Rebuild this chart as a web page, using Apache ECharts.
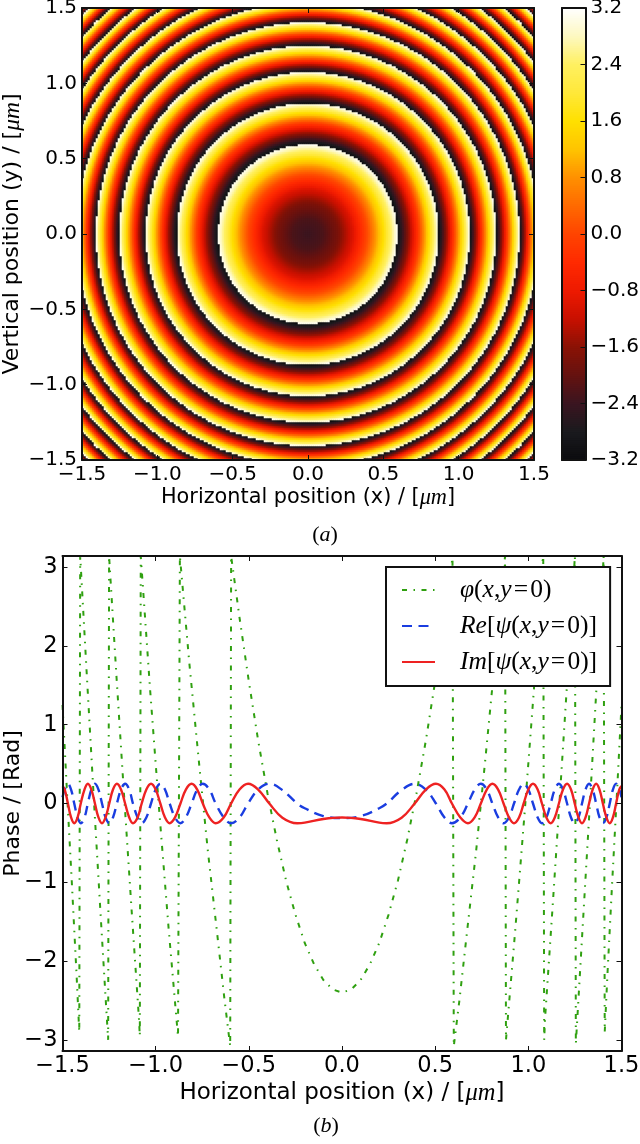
<!DOCTYPE html>
<html><head><meta charset="utf-8">
<style>html,body{margin:0;padding:0;background:#fff}#c{width:640px;height:1144px}</style>
<script src="https://cdn.jsdelivr.net/npm/echarts@6/dist/echarts.min.js"></script>
</head><body><div id="c"></div>
<script>
// ---- (a) phase map: radial profile read from the rings (radius in um, unwrapped phase in rad)
const radialR = [0,0.1,0.2,0.3,0.4,0.5,0.595,0.735,0.868,0.975,1.075,1.165,1.25,1.405,1.54,1.665,1.78,1.885,1.99,2.085,2.175];
const radialPhase = [-2.4,-2.24,-1.77,-0.98,0.13,1.55,3.1416,6.13,9.4248,12.62,15.708,19.04,21.991,28.274,34.558,40.841,47.124,53.407,59.69,65.973,72.257];
const colorbarMin = -3.2, colorbarMax = 3.2, colorbarStep = 0.8;
// colour ramp, equal steps from -3.2 to 3.2
const ramp = ['#0c0c0e','#1a1a1e','#3a1520','#651210','#8a1205','#c81000','#ee1a00','#ff2a00','#ff4400','#ff6a00','#ff9000','#ffc400','#ffe000','#ffe83a','#fff060','#fdf8c0','#ffffff'];

// ---- (b) cuts through the centre
const phiX = [-1.5,-1.475,-1.45,-1.425,-1.41,-1.405,-1.37,-1.33,-1.29,-1.255,-1.25,-1.21,-1.17,-1.13,-1.09,-1.085,-1.08,-1.03,-0.98,-0.93,-0.88,-0.87,-0.82,-0.77,-0.72,-0.67,-0.63,-0.6,-0.595,-0.55,-0.5,-0.45,-0.4,-0.35,-0.3,-0.25,-0.2,-0.15,-0.1,-0.05,0,0.05,0.1,0.15,0.2,0.25,0.3,0.35,0.4,0.45,0.5,0.55,0.593,0.6,0.63,0.67,0.72,0.77,0.82,0.87,0.875,0.88,0.93,0.98,1.03,1.075,1.08,1.085,1.09,1.13,1.17,1.21,1.245,1.25,1.255,1.29,1.33,1.37,1.4,1.404,1.41,1.425,1.45,1.475,1.5];
const phiY = [1.25,0.1,-1.0,-2.15,-2.9,3.14,1.65,-0.02,-1.63,-3.0,3.14,1.6,0.12,-1.32,-2.72,-2.95,3.14,1.45,-0.12,-1.6,-2.96,3.14,1.8,0.58,-0.6,-1.65,-2.5,-3.08,3.14,2.36,1.55,0.8,0.13,-0.46,-0.98,-1.41,-1.77,-2.04,-2.24,-2.36,-2.4,-2.36,-2.24,-2.04,-1.77,-1.41,-0.98,-0.46,0.13,0.8,1.55,2.38,3.12,-3.08,-2.5,-1.65,-0.6,0.58,1.8,3.0,3.14,-3.0,-1.6,-0.12,1.45,3.05,3.14,-3.0,-2.72,-1.32,0.12,1.6,2.95,3.14,-3.05,-1.63,-0.02,1.65,2.95,3.14,-2.9,-2.15,-1.0,0.1,1.25];
const waveX = [-1.5,-1.488,-1.471,-1.454,-1.437,-1.419,-1.402,-1.382,-1.364,-1.345,-1.326,-1.307,-1.288,-1.269,-1.249,-1.229,-1.208,-1.186,-1.164,-1.142,-1.122,-1.097,-1.075,-1.05,-1.025,-1.0,-0.975,-0.95,-0.925,-0.896,-0.867,-0.838,-0.807,-0.777,-0.747,-0.712,-0.678,-0.635,-0.595,-0.55,-0.504,-0.45,-0.39,-0.32,-0.24,-0.2,-0.1,0,0.1,0.2,0.24,0.32,0.39,0.45,0.504,0.55,0.59,0.635,0.676,0.712,0.745,0.777,0.807,0.838,0.867,0.896,0.923,0.95,0.975,1.0,1.025,1.05,1.073,1.097,1.12,1.142,1.164,1.186,1.208,1.229,1.249,1.269,1.288,1.307,1.326,1.345,1.364,1.382,1.4,1.419,1.437,1.454,1.471,1.488,1.5];
const reY = [0.08,0.177,0.25,0.177,0,-0.177,-0.25,-0.177,0,0.177,0.25,0.177,0,-0.177,-0.25,-0.177,0,0.177,0.25,0.177,0,-0.177,-0.25,-0.177,0,0.177,0.25,0.177,0,-0.177,-0.25,-0.177,0,0.177,0.25,0.177,0,-0.177,-0.25,-0.177,0,0.177,0.25,0.17,0,-0.06,-0.16,-0.185,-0.16,-0.06,0,0.17,0.25,0.177,0,-0.177,-0.25,-0.177,0,0.177,0.25,0.177,0,-0.177,-0.25,-0.177,0,0.177,0.25,0.177,0,-0.177,-0.25,-0.177,0,0.177,0.25,0.177,0,-0.177,-0.25,-0.177,0,0.177,0.25,0.177,0,-0.177,-0.25,-0.177,0,0.177,0.25,0.177,0.08];
const imY = [0.22,0.177,0,-0.177,-0.25,-0.177,0,0.177,0.25,0.177,0,-0.177,-0.25,-0.177,0,0.177,0.25,0.177,0,-0.177,-0.25,-0.177,0,0.177,0.25,0.177,0,-0.177,-0.25,-0.177,0,0.177,0.25,0.177,0,-0.177,-0.25,-0.177,0,0.177,0.25,0.177,0,-0.18,-0.25,-0.243,-0.197,-0.178,-0.197,-0.243,-0.25,-0.18,0,0.177,0.25,0.177,0,-0.177,-0.25,-0.177,0,0.177,0.25,0.177,0,-0.177,-0.25,-0.177,0,0.177,0.25,0.177,0,-0.177,-0.25,-0.177,0,0.177,0.25,0.177,0,-0.177,-0.25,-0.177,0,0.177,0.25,0.177,0,-0.177,-0.25,-0.177,0,0.177,0.22];
const phaseTicks = [-3,-2,-1,0,1,2,3];
const seriesNames = ['phi(x,y=0)','Re[psi(x,y=0)]','Im[psi(x,y=0)]'];
const legendRich = {
  'phi(x,y=0)':'{s|}{i|\u03c6}{r|(}{i|x}{r|,}{i|y}{r|\u200a=\u200a0)}',
  'Re[psi(x,y=0)]':'{s|}{i|Re}{r|[}{i|\u03c8}{r|(}{i|x}{r|,}{i|y}{r|\u200a=\u200a0)]}',
  'Im[psi(x,y=0)]':'{s|}{i|Im}{r|[}{i|\u03c8}{r|(}{i|x}{r|,}{i|y}{r|\u200a=\u200a0)]}'
};

const SANS = 'DejaVu Sans', SERIF = 'Liberation Serif';
const minus = s => s.replace('-', '\u2212');
const fmt1 = v => minus(Number(v).toFixed(1));
const fmt0 = v => minus(String(Math.round(v)));

function phaseAt(r){
  let i = 1;
  while (i < radialR.length - 1 && radialR[i] < r) i++;
  const t = (r - radialR[i-1]) / (radialR[i] - radialR[i-1]);
  const u = radialPhase[i-1] + t * (radialPhase[i] - radialPhase[i-1]);
  const two = 2 * Math.PI;
  return ((u + Math.PI) % two + two) % two - Math.PI;
}
const N = 226;
const cats = Array.from({length:N}, (_, i) => i);
const mapCells = [];
for (let i = 0; i < N; i++) for (let j = 0; j < N; j++) {
  const x = -1.5 + 3 * (i + 0.5) / N, y = -1.5 + 3 * (j + 0.5) / N;
  mapCells.push([i, j, phaseAt(Math.hypot(x, y))]);
}
const BAR = 226;
const barCats = Array.from({length:BAR}, (_, i) => i);
const barCells = barCats.map(j => [0, j, colorbarMin + (colorbarMax - colorbarMin) * (j + 0.5) / BAR]);

const rich = size => ({
  a:{fontFamily:SANS,fontSize:size,color:'#000'},
  m:{fontFamily:SERIF,fontStyle:'italic',fontSize:size+1.5,color:'#000'}
});
const frameLine = {show:true,onZero:false,lineStyle:{color:'#111',width:2}};
const tick = {show:true,inside:true,length:5,lineStyle:{color:'#111',width:1}};
const lab = size => ({fontFamily:SANS,fontSize:size,color:'#000'});
const hiddenCat = (gridIndex,data) => ({type:'category',gridIndex,data,show:false});
const tickLabels = (size,margin,formatter) => Object.assign({show:true,margin,formatter,showMinLabel:true,showMaxLabel:true,hideOverlap:false},lab(size));
function valAxis(gridIndex,position,min,max,interval,extra){
  return Object.assign({type:'value',gridIndex,position,min,max,interval,z:6,splitLine:{show:false},
    axisLine:frameLine,axisTick:tick,axisLabel:{show:false}},extra||{});
}
const capRich = {r:{fontFamily:SERIF,fontSize:22,fontWeight:'normal',color:'#000'},i:{fontFamily:SERIF,fontStyle:'italic',fontWeight:'normal',fontSize:22,color:'#000'}};
const grid = (left,top,width,height) => ({left,top,width,height,outerBoundsMode:'none'});

const option = {
  animation:false,
  backgroundColor:'#fff',
  title:[
    {text:'{r|(}{i|a}{r|)}',left:320,top:519,textAlign:'center',textStyle:{fontWeight:'normal',rich:capRich}},
    {text:'{r|(}{i|b}{r|)}',left:321,top:1110,textAlign:'center',textStyle:{fontWeight:'normal',rich:capRich}}
  ],
  grid:[
    grid(82,8,452,452),
    grid(82,8,452,452),
    grid(562,8,23.5,452),
    grid(562,8,23.5,452),
    grid(62.5,556,559,495)
  ],
  xAxis:[
    hiddenCat(0,cats),
    valAxis(1,'bottom',-1.5,1.5,0.5,{axisLabel:tickLabels(20,5,fmt1),
      name:'{a|Horizontal position (x) / [}{m|\u03bcm}{a|]}',nameLocation:'middle',nameGap:27,nameTextStyle:{rich:rich(20.8)}}),
    valAxis(1,'top',-1.5,1.5,0.5),
    hiddenCat(2,[0]),
    valAxis(3,'bottom',0,1,1,{axisTick:{show:false}}),
    valAxis(3,'top',0,1,1,{axisTick:{show:false}}),
    valAxis(4,'bottom',-1.5,1.5,0.5,{axisLabel:tickLabels(22.5,4,fmt1),
      name:'{a|Horizontal position (x) / [}{m|\u03bcm}{a|]}',nameLocation:'middle',nameGap:30,nameTextStyle:{rich:rich(23)}}),
    valAxis(4,'top',-1.5,1.5,0.5)
  ],
  yAxis:[
    hiddenCat(0,cats),
    valAxis(1,'left',-1.5,1.5,0.5,{axisLabel:tickLabels(20,5,fmt1),
      name:'{a|Vertical position (y) / [}{m|\u03bcm}{a|]}',nameLocation:'middle',nameGap:58,nameMoveOverlap:false,nameTextStyle:{rich:rich(22)}}),
    valAxis(1,'right',-1.5,1.5,0.5),
    hiddenCat(2,barCats),
    valAxis(3,'left',colorbarMin,colorbarMax,colorbarStep,{axisTick:{show:false}}),
    valAxis(3,'right',colorbarMin,colorbarMax,colorbarStep,{axisLabel:tickLabels(20,5,fmt1)}),
    valAxis(4,'left',-Math.PI,Math.PI,undefined,{axisTick:Object.assign({customValues:phaseTicks},tick),
      axisLabel:Object.assign(tickLabels(22.5,5,fmt0),{customValues:phaseTicks}),
      name:'{a|Phase / [Rad]}',nameLocation:'middle',nameGap:38,nameMoveOverlap:false,nameTextStyle:{rich:rich(22)}}),
    valAxis(4,'right',-Math.PI,Math.PI,undefined,{axisTick:Object.assign({customValues:phaseTicks},tick)})
  ],
  visualMap:{type:'continuous',show:false,min:colorbarMin,max:colorbarMax,dimension:2,seriesIndex:[0,1],inRange:{color:ramp}},
  legend:{
    orient:'vertical',left:386,top:567,z:10,
    data:seriesNames,
    backgroundColor:'#fff',borderColor:'#111',borderWidth:2,borderRadius:0,
    padding:[10,13,11,15],itemWidth:33,itemHeight:14,itemGap:10,
    itemStyle:{opacity:0},
    selectedMode:false,
    formatter:n=>legendRich[n],
    textStyle:{rich:{
      s:{width:20,height:23,lineHeight:23},
      r:{fontFamily:SERIF,fontSize:25.5,lineHeight:23,color:'#000'},
      i:{fontFamily:SERIF,fontStyle:'italic',fontSize:25.5,lineHeight:23,color:'#000'}
    }}
  },
  series:[
    {type:'heatmap',xAxisIndex:0,yAxisIndex:0,data:mapCells,progressive:0,silent:true,emphasis:{disabled:true}},
    {type:'heatmap',xAxisIndex:3,yAxisIndex:3,data:barCells,progressive:0,silent:true,emphasis:{disabled:true}},
    {type:'line',name:seriesNames[0],xAxisIndex:6,yAxisIndex:6,data:phiX.map((x,i)=>[x,phiY[i]]),showSymbol:false,symbol:'none',
      lineStyle:{color:'#2fa010',width:2,type:[5,6.5,1.5,6.5]},itemStyle:{color:'#2fa010'},z:2},
    {type:'line',name:seriesNames[1],xAxisIndex:6,yAxisIndex:6,data:waveX.map((x,i)=>[x,reY[i]]),showSymbol:false,symbol:'none',smooth:0.4,
      lineStyle:{color:'#1a3de0',width:2.4,type:[10,6.5]},itemStyle:{color:'#1a3de0'},z:3},
    {type:'line',name:seriesNames[2],xAxisIndex:6,yAxisIndex:6,data:waveX.map((x,i)=>[x,imY[i]]),showSymbol:false,symbol:'none',smooth:0.4,
      lineStyle:{color:'#ee2222',width:2.4},itemStyle:{color:'#ee2222'},z:4}
  ]
};
const chart = echarts.init(document.getElementById('c'),null,{renderer:'canvas',width:640,height:1144});
chart.setOption(option);
</script></body></html>
